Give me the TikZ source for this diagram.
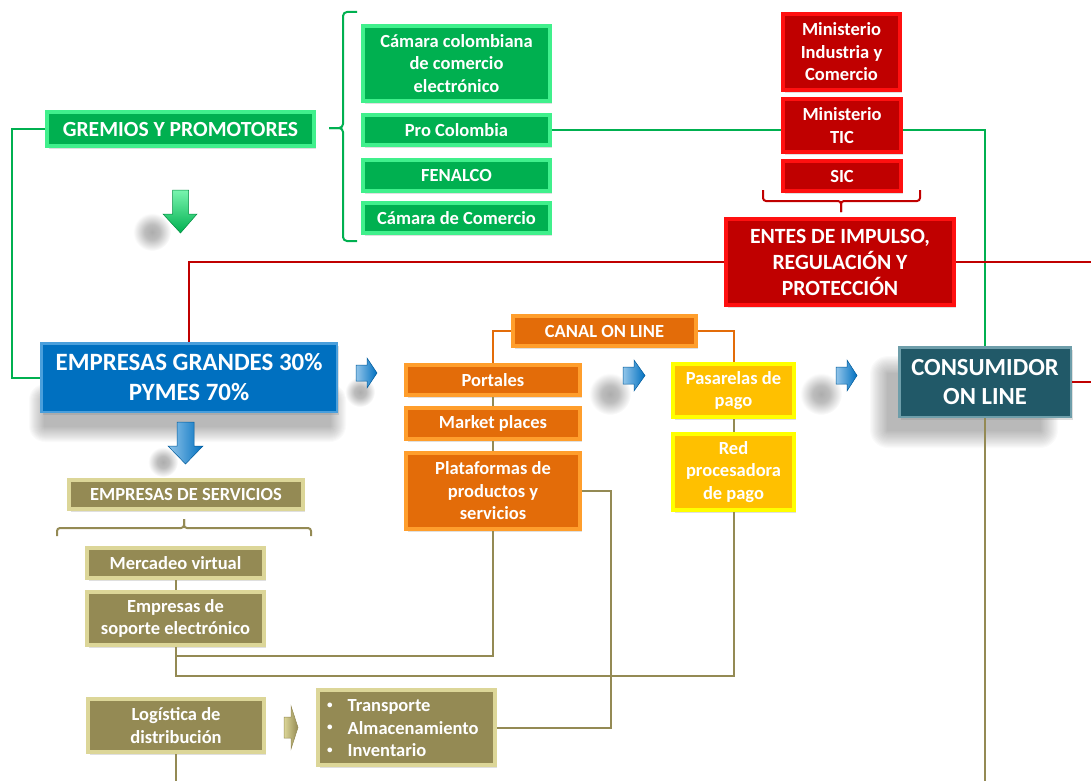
\documentclass[tikz,border=0pt]{standalone}
\usepackage{fontspec}
\setmainfont{Carlito}
\usetikzlibrary{shadows,calc}
\definecolor{gfill}{HTML}{00B050}
\definecolor{gedge}{HTML}{40F08C}
\definecolor{rfill}{HTML}{C00000}
\definecolor{redge}{HTML}{FF1010}
\definecolor{bfill}{HTML}{0070C0}
\definecolor{bedge}{HTML}{4A9FDC}
\definecolor{ofill}{HTML}{E36C09}
\definecolor{oedge}{HTML}{FF9E2C}
\definecolor{yfill}{HTML}{FFC000}
\definecolor{yedge}{HTML}{FFFF00}
\definecolor{olfill}{HTML}{948A54}
\definecolor{oledge}{HTML}{DCD698}
\definecolor{tfill}{HTML}{215968}
\definecolor{tedge}{HTML}{6E9EAA}
\definecolor{olline}{HTML}{948A54}
\pgfdeclareradialshading{softblob}{\pgfpoint{0bp}{0bp}}{color(0bp)=(black!32); color(10bp)=(black!26); color(25bp)=(white); color(50bp)=(white)}
\newcommand\myfuzz[5]{%
  \foreach \i in {1,...,16}{%
    \pgfmathsetmacro\rr{\i*#5/16}%
    \fill[black,opacity=0.02,rounded corners=\rr pt] ($(#1,#2)-(\rr,\rr)$) rectangle ($(#3,#4)+(\rr,\rr)$);}}
\newcommand\myblob[3]{%
  \shade[shading=softblob] (#1,#2) circle (#3);}
\newcommand\smallbullet{\raisebox{0.18em}{\scalebox{0.6}{\textbullet}}}
\begin{document}
\begin{tikzpicture}[x=1pt,y=-1pt,
  bx/.style={draw, line width=4pt, inner sep=0pt, text=white, align=center,
    drop shadow={shadow xshift=2pt,shadow yshift=-3pt,opacity=0.25}},
  fs/.style={font=\fontsize{18.5}{22.5}\selectfont\bfseries},
  gbox/.style={bx, fs, fill=gfill, draw=gedge},
  rbox/.style={bx, fs, fill=rfill, draw=redge},
  obox/.style={bx, fs, fill=ofill, draw=oedge},
  ybox/.style={bx, fs, fill=yfill, draw=yedge},
  olbox/.style={bx, fs, fill=olfill, draw=oledge},
  gline/.style={draw=gfill, line width=2pt},
  rline/.style={draw=rfill, line width=2pt},
  oline/.style={draw=ofill, line width=2pt},
  olconn/.style={draw=olline, line width=2pt},
  barrow/.style={left color=bedge!60!white, right color=bfill, draw=bfill!80!black, line width=0.5pt},
]
\useasboundingbox (0,0) rectangle (1091,781);

% soft shadows
\myfuzz{45}{400}{330}{426}{16}
\myfuzz{888}{374}{1040}{430}{18}
\myblob{152}{232}{19}
\myblob{610}{394}{21}
\myblob{821}{394}{21}
\myblob{360}{392}{15}
\myblob{163}{462}{15}

% nodes
\node[gbox, font=\fontsize{21.6}{26}\selectfont\bfseries, minimum width=267pt, minimum height=33pt] (gremios) at (180.5,129) {GREMIOS Y PROMOTORES};
\node[gbox, minimum width=187pt, minimum height=75pt] (camara) at (456.5,63.5) {Cámara colombiana\\de comercio\\electrónico};
\node[gbox, minimum width=187pt, minimum height=30pt] (procol) at (456.5,130) {Pro Colombia};
\node[gbox, minimum width=187pt, minimum height=31pt] (fenalco) at (456.5,175.5) {FENALCO};
\node[gbox, minimum width=187pt, minimum height=30pt] (camcom) at (456.5,218) {Cámara de Comercio};

\node[rbox, minimum width=117pt, minimum height=76pt] (minind) at (841.5,52) {Ministerio\\Industria y\\Comercio};
\node[rbox, minimum width=118pt, minimum height=53pt] (mintic) at (842,125.5) {Ministerio\\TIC};
\node[rbox, minimum width=118pt, minimum height=30pt] (sic) at (842,176) {SIC};
\node[rbox, font=\fontsize{21.7}{26}\selectfont\bfseries, minimum width=228pt, minimum height=86pt] (entes) at (840,262) {ENTES DE IMPULSO,\\REGULACIÓN Y\\PROTECCIÓN};

\node[bx, fill=bfill, draw=bedge, line width=2.5pt, font=\fontsize{24.9}{30}\selectfont\bfseries, minimum width=295.5pt, minimum height=68.5pt] (empresas) at (189,377.5) {EMPRESAS GRANDES 30\%\\PYMES 70\%};

\node[obox, minimum width=183pt, minimum height=30pt] (canal) at (604.5,331) {CANAL ON LINE};
\node[obox, minimum width=174pt, minimum height=30pt] (portales) at (493,380) {Portales};
\node[obox, minimum width=174pt, minimum height=31pt] (market) at (493,423.5) {Market places};
\node[obox, minimum width=174pt, minimum height=76pt] (plataf) at (493,491) {Plataformas de\\productos y\\servicios};

\node[ybox, minimum width=121pt, minimum height=53pt] (pasarelas) at (733.5,390.5) {Pasarelas de\\pago};
\node[ybox, minimum width=121pt, minimum height=76pt] (redproc) at (733.5,472) {Red\\procesadora\\de pago};

\node[bx, fill=tfill, draw=tedge, line width=2.5pt, font=\fontsize{24.6}{29}\selectfont\bfseries, minimum width=171.5pt, minimum height=69.5pt] (consumidor) at (985,382) {CONSUMIDOR\\ON LINE};

\node[olbox, minimum width=234pt, minimum height=29pt] (empserv) at (186,494.5) {EMPRESAS DE SERVICIOS};
\node[olbox, minimum width=177pt, minimum height=30pt] (mercadeo) at (175.5,563) {Mercadeo virtual};
\node[olbox, minimum width=177pt, minimum height=53pt] (soporte) at (175.5,618.5) {Empresas de\\soporte electrónico};
\node[olbox, minimum width=176pt, minimum height=53pt] (logistica) at (176,725.5) {Logística de\\distribución};
\node[olbox, minimum width=177pt, minimum height=75pt] (transp) at (406.5,727.5) {};
\node[anchor=west, inner sep=0pt, text=white, fs] (tlist) at (327,729.5) {\begin{tabular}{@{}l@{\hspace{15pt}}l@{}}\smallbullet & Transporte\\ \smallbullet & Almacenamiento\\ \smallbullet & Inventario\end{tabular}};

% free ends
\coordinate (redR1) at (1091,262);
\coordinate (redR2) at (1091,382);
\coordinate (bot1) at (176,781);
\coordinate (bot2) at (985,781);
\coordinate (j1) at (175.5,656);
\coordinate (j2) at (175.5,676);

% green connectors
\draw[gline] (gremios.west) -- ++(-33,0) |- (empresas.west);
\draw[gline] (procol.east) -- (procol.east -| mintic.west);
\draw[gline] (mintic.east |- procol.east) -| (consumidor.north);
% red connectors
\draw[rline] (entes.west) -| (empresas.north);
\draw[rline] (entes.east) -- (redR1);
\draw[rline] (consumidor.east) -- (redR2);
% orange connectors
\draw[oline] (canal.west) -| (portales.north);
\draw[oline] (canal.east) -| (pasarelas.north);
% olive connectors
\draw[olconn] (portales.south) -- (market.north);
\draw[olconn] (market.south) -- (plataf.north);
\draw[olconn] (pasarelas.south) -- (redproc.north);
\draw[olconn] (mercadeo.south) -- (soporte.north);
\draw[olconn] (soporte.south) -- (j1) -| (plataf.south);
\draw[olconn] (j1) -- (j2) -| (redproc.south);
\draw[olconn] (plataf.east) -- ++(29,0) |- (transp.east);
\draw[olconn] (logistica.south) -- (bot1);
\draw[olconn] (consumidor.south) -- (bot2);

% braces
\draw[gline, rounded corners=4pt] (357,12) -| (343,128) -- (329,128);
\draw[gline, rounded corners=4pt] (329,128) -- (343,128) |- (357,241);
\draw[rline, rounded corners=3pt] (763,190) |- (841,201) -- (841,212);
\draw[rline, rounded corners=3pt] (841,212) -- (841,201) -| (920,190);
\draw[olconn, rounded corners=3pt] (57,536) |- (184,528) -- (184,519);
\draw[olconn, rounded corners=3pt] (184,519) -- (184,528) -| (311,536);

% arrows
\path[top color=gedge!70!white, bottom color=gfill, draw=gfill!80!black, line width=0.5pt]
  (172.5,190) -- (188.5,190) -- (188.5,214) -- (197,214) -- (180.5,233) -- (163,214) -- (172.5,214) -- cycle;
\path[barrow] (177,422) -- (194,422) -- (194,446) -- (203,446) -- (185.5,464) -- (168,446) -- (177,446) -- cycle;
\path[barrow] (356,365) -- (367,365) -- (367,358) -- (377,373) -- (367,388) -- (367,381) -- (356,381) -- cycle;
\path[barrow] (623,367) -- (634,367) -- (634,360) -- (645,375.5) -- (634,391) -- (634,384) -- (623,384) -- cycle;
\path[barrow] (836,367) -- (847,367) -- (847,360) -- (857,375.5) -- (847,391) -- (847,384) -- (836,384) -- cycle;
\path[left color=oledge, right color=olfill, draw=olfill, line width=0.5pt]
  (284,717) -- (291,717) -- (291,706) -- (298,727.5) -- (291,749) -- (291,738) -- (284,738) -- cycle;
\end{tikzpicture}
\end{document}
